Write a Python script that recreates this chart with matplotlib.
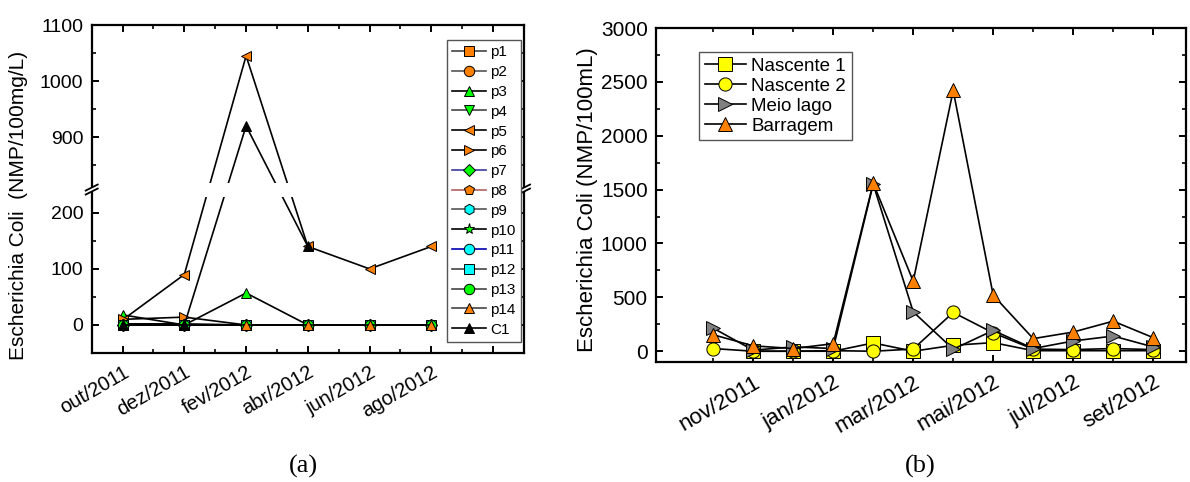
import numpy as np
import matplotlib
matplotlib.use("Agg")
import matplotlib.pyplot as plt
from matplotlib.ticker import FixedLocator, NullFormatter
from matplotlib.lines import Line2D
from matplotlib.patches import Polygon

plt.rcParams['font.family'] = ['Liberation Sans', 'DejaVu Sans']

# ---------------- data: panel (a) ----------------
months_a = [0, 2, 4, 6, 8, 10]
tick_labels_a = ['out/2011', 'dez/2011', 'fev/2012', 'abr/2012', 'jun/2012', 'ago/2012', '']
nan = np.nan
p1 = [0, 0, 0, 0, 0, 0]
p2 = [0, 0, 0, 0, 0, 0]
p3 = [18, 0, 57, 0, 0, 0]
p4 = [0, 0, 0, 0, 0, 0]
p5 = [9, 90, 1045, 140, 100, 140]
p6 = [10, 14, 0, 0, 0, 0]
p7 = [0, 0, 0, 0, 0, 0]
p8 = [2, 2, 0, 0, 0, 0]
p9 = [0, 0, 0, 0, 0, 0]
p10 = [0, 0, 0, 0, 0, 0]
p11 = [0, 0, 0, 0, 0, 0]
p12 = [0, 0, 0, 0, 0, 0]
p13 = [0, 0, 0, 0, 0, 0]
p14 = [0, 0, 0, 0, 0, 0]
c1 = [0, 0, 920, 140, nan, nan]
names_a = ['p1', 'p2', 'p3', 'p4', 'p5', 'p6', 'p7', 'p8', 'p9', 'p10',
           'p11', 'p12', 'p13', 'p14', 'C1']
series_a = [p1, p2, p3, p4, p5, p6, p7, p8, p9, p10, p11, p12, p13, p14, c1]

# ---------------- data: panel (b) ----------------
months_b = list(range(12))
tick_labels_b = ['nov/2011', 'jan/2012', 'mar/2012', 'mai/2012', 'jul/2012', 'set/2012']
nascente1 = [nan, 0, 0, 0, 77, 0, 55, 80, 5, 5, 5, 5]
nascente2 = [25, 0, 0, 5, 0, 20, 360, 170, 20, 15, 25, 15]
meio_lago = [214, 10, 40, 25, 1550, 366, 19, 193, 25, 95, 141, 40]
barragem = [153, 50, 25, 70, 1560, 650, 2420, 520, 117, 178, 279, 126]
names_b = ['Nascente 1', 'Nascente 2', 'Meio lago', 'Barragem']
series_b = [nascente1, nascente2, meio_lago, barragem]

# ---------------- styles ----------------
ORANGE = '#ff8000'
GREEN = '#00ff00'
CYAN = '#00ffff'
styles_a = [
    dict(marker='s', mfc=ORANGE, color='#444444'),
    dict(marker='o', mfc=ORANGE, color='#555555'),
    dict(marker='^', mfc=GREEN, color='black'),
    dict(marker='v', mfc=GREEN, color='#444444'),
    dict(marker='<', mfc=ORANGE, color='black'),
    dict(marker='>', mfc=ORANGE, color='black'),
    dict(marker='D', mfc=GREEN, color='#3a3aa0', ms=6),
    dict(marker='p', mfc=ORANGE, color='#b06060'),
    dict(marker='h', mfc=CYAN, color='#555555'),
    dict(marker='*', mfc=GREEN, color='black', ms=8),
    dict(marker='o', mfc=CYAN, color='#0000b0'),
    dict(marker='s', mfc=CYAN, color='#444444'),
    dict(marker='o', mfc=GREEN, color='#444444'),
    dict(marker='^', mfc=ORANGE, color='#444444'),
    dict(marker='^', mfc='black', color='black'),
]
styles_b = [
    dict(marker='s', mfc='#ffff00'),
    dict(marker='o', mfc='#ffff00'),
    dict(marker='>', mfc='#808080'),
    dict(marker='^', mfc=ORANGE),
]

fig = plt.figure(figsize=(11.9, 4.82), dpi=100)
W, H = 1190.0, 482.0

# ================= panel (a) with broken axis =================
B1, B2, G = 229.0, 819.0, 25.0


def fwd(y):
    y = np.asarray(y, dtype=float)
    return np.where(y <= B1, y,
                    np.where(y >= B2, y - (B2 - B1) + G,
                             B1 + (y - B1) * G / (B2 - B1)))


def inv(t):
    t = np.asarray(t, dtype=float)
    return np.where(t <= B1, t,
                    np.where(t >= B1 + G, t + (B2 - B1) - G,
                             B1 + (t - B1) * (B2 - B1) / G))


axA = fig.add_axes([91.7 / W, 1 - 353 / H, 432.3 / W, 328 / H])
axA.set_yscale('function', functions=(fwd, inv))
axA.set_xlim(-1, 13)
axA.set_ylim(-50, 1100)

handles_a = []
for name, vals, st in zip(names_a, series_a, styles_a):
    st = dict(st)
    ms = st.pop('ms', 7.5)
    axA.plot(months_a, vals, marker=st['marker'], color='black', lw=1.2,
             mfc=st['mfc'], mec='black', mew=0.7, ms=ms, zorder=2)
    handles_a.append(Line2D([], [], marker=st['marker'], color=st['color'], lw=1.2,
                            mfc=st['mfc'], mec='black', mew=0.7, ms=ms))

axA.axhspan(B1, B2, color='white', zorder=2.3, lw=0)

axA.yaxis.set_major_locator(FixedLocator([0, 100, 200, 900, 1000, 1100]))
axA.yaxis.set_minor_locator(FixedLocator([50, 150, 850, 950, 1050]))
axA.yaxis.set_minor_formatter(NullFormatter())
axA.set_yticklabels(['0', '100', '200', '900', '1000', '1100'])
axA.xaxis.set_major_locator(FixedLocator([0, 2, 4, 6, 8, 10, 12]))
axA.xaxis.set_minor_locator(FixedLocator([1, 3, 5, 7, 9, 11]))
axA.set_xticklabels(tick_labels_a, rotation=30, ha='right', va='top',
                    rotation_mode='anchor', fontsize=14.5)
axA.set_ylabel('Escherichia Coli  (NMP/100mg/L)', fontsize=15)
axA.yaxis.set_label_coords(-0.147, 0.45)

# break marks
tot = float(fwd(1100) + 50)
yc = float(fwd(B1) + G / 2 + 50) / tot
for xs in (0.0, 1.0):
    dx = 6 / 432.3
    dy = 1 / 328.0
    poly = Polygon([(xs - dx, yc - 5 * dy), (xs + dx, yc + 1 * dy),
                    (xs + dx, yc + 5 * dy), (xs - dx, yc - 1 * dy)],
                   closed=True, transform=axA.transAxes, facecolor='white',
                   edgecolor='none', clip_on=False, zorder=10)
    axA.add_patch(poly)
    for off in (-2, 2):
        axA.plot([xs - dx, xs + dx], [yc + (off - 3) * dy, yc + (off + 3) * dy],
                 transform=axA.transAxes, color='black', lw=1.3,
                 clip_on=False, zorder=11)

fig.legend(handles_a, names_a, loc='upper right',
           bbox_to_anchor=(521 / W, 1 - 40 / H), fontsize=11,
           frameon=True, fancybox=False, edgecolor='#555555', framealpha=1,
           labelspacing=0.38, handlelength=2.2, handletextpad=0.3,
           borderpad=0.35, borderaxespad=0, numpoints=1)

# ================= panel (b) =================
axB = fig.add_axes([656 / W, 1 - 362 / H, 530 / W, 334 / H])
axB.set_xlim(-1.43, 11.82)
axB.set_ylim(-100, 3000)
handles_b = []
for name, vals, st in zip(names_b, series_b, styles_b):
    ln, = axB.plot(months_b, vals, marker=st['marker'], color='black', lw=1.2,
                   mfc=st['mfc'], mec='black', mew=0.7, ms=9.5, label=name)
    handles_b.append(ln)
axB.yaxis.set_major_locator(FixedLocator([0, 500, 1000, 1500, 2000, 2500, 3000]))
axB.yaxis.set_minor_locator(FixedLocator([250, 750, 1250, 1750, 2250, 2750]))
axB.xaxis.set_major_locator(FixedLocator([1, 3, 5, 7, 9, 11]))
axB.xaxis.set_minor_locator(FixedLocator([0, 2, 4, 6, 8, 10]))
axB.set_xticklabels(tick_labels_b, rotation=30, ha='right', va='top',
                    rotation_mode='anchor', fontsize=16)
axB.set_ylabel('Escherichia Coli (NMP/100mL)', fontsize=16)
axB.yaxis.set_label_coords(-0.110, 0.485)
axB.legend(handles_b, names_b, loc='upper left', bbox_to_anchor=(0.081, 0.928),
           fontsize=13.5, frameon=True, fancybox=False, edgecolor='#555555',
           framealpha=1, labelspacing=0.15, handlelength=2.2, handletextpad=0.3,
           borderpad=0.3, borderaxespad=0, numpoints=1)

for ax, fs in ((axA, 14), (axB, 15)):
    for sp in ax.spines.values():
        sp.set_linewidth(1.6)
    ax.tick_params(which='both', direction='in', top=True, right=True)
    ax.tick_params(axis='y', which='major', labelsize=fs)
    ax.tick_params(which='major', length=5, width=1.4, pad=6)
    ax.tick_params(which='minor', length=3, width=1.2)
    ax.tick_params(axis='x', which='major', pad=7)

fig.text(303 / W, 1 - 466 / H, '(a)', ha='center', va='center', fontsize=19,
         family=['Liberation Serif', 'DejaVu Serif'])
fig.text(920 / W, 1 - 466 / H, '(b)', ha='center', va='center', fontsize=19,
         family=['Liberation Serif', 'DejaVu Serif'])

fig.savefig('out.png', dpi=100)
